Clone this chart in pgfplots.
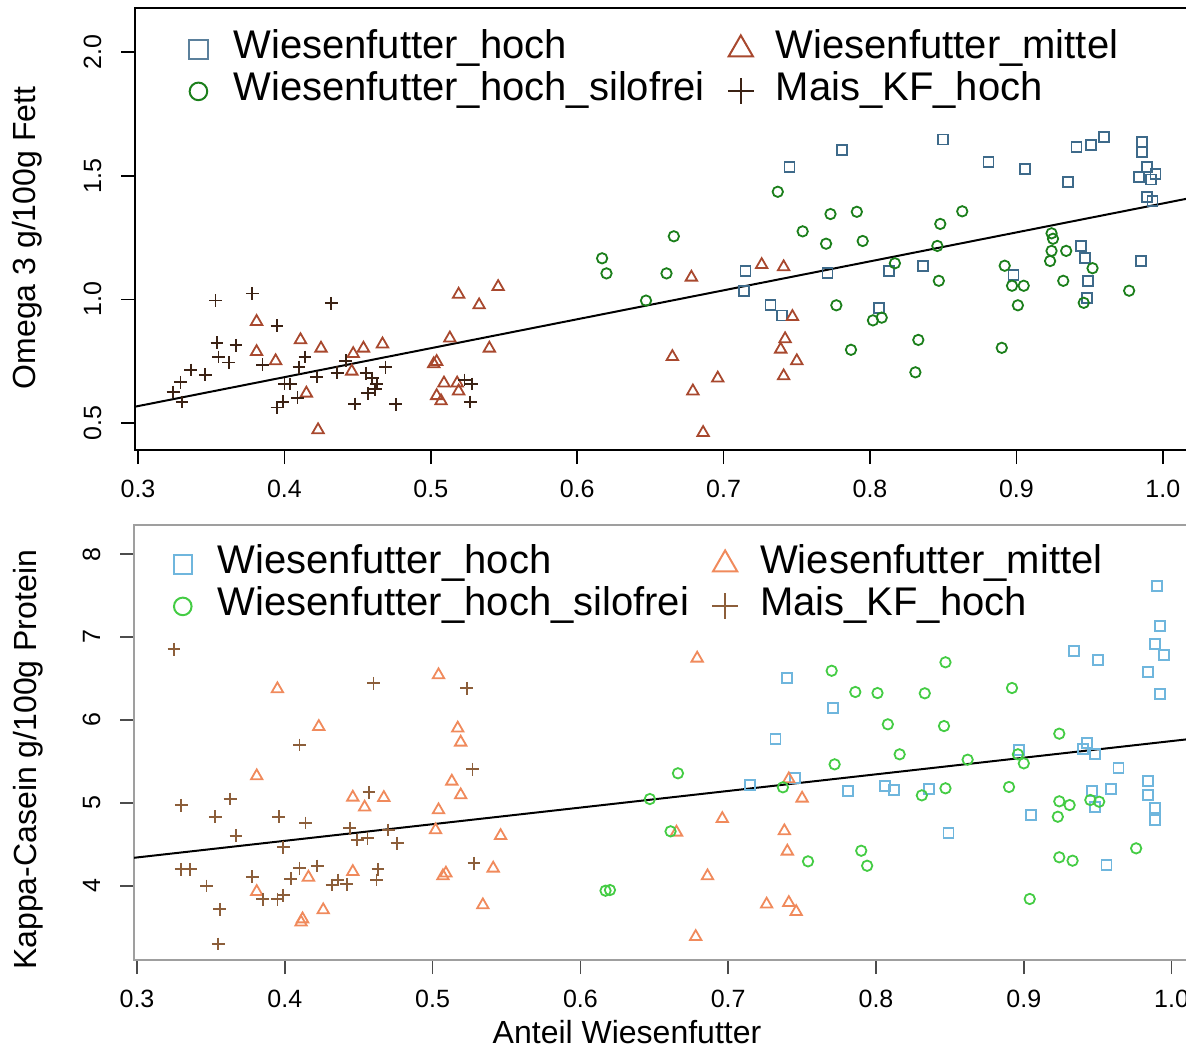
\documentclass[border=0pt]{standalone}
\usepackage{fontspec}
\setmainfont{Liberation Sans}
\usepackage{pgfplots}
\pgfplotsset{compat=1.18}

% colours of the two panels
\definecolor{sqA}{HTML}{3E6A8A}
\definecolor{trA}{HTML}{A8482E}
\definecolor{ciA}{HTML}{1B7F1B}
\definecolor{plA}{HTML}{3B2214}
\definecolor{sqB}{HTML}{6FB6DD}
\definecolor{trB}{HTML}{F08A5C}
\definecolor{ciB}{HTML}{44CC44}
\definecolor{plB}{HTML}{8C5E3A}

\newcommand\tickfont{\fontsize{12.5}{15}\selectfont}
\newcommand\legfont{\fontsize{20}{21}\selectfont}
\newcommand\labfont{\fontsize{16}{19}\selectfont}

\pgfplotsset{
  rpanel/.style={
    scale only axis,
    anchor=north west,
    tick align=outside,
    major tick length=7pt,
    xtick={0.3,0.4,0.5,0.6,0.7,0.8,0.9,1.0},
    xtick pos=bottom, ytick pos=left,
    /pgf/number format/assume math mode=true,
    xticklabel style={font=\tickfont, anchor=base, inner sep=0pt,
      /pgf/number format/.cd, fixed, fixed zerofill, precision=1},
    yticklabel style={font=\tickfont, rotate=90, anchor=base, inner sep=0pt},
    xticklabel shift=16.5pt,
    yticklabel shift=10pt,
    legend columns=2,
    legend cell align=left,
    legend style={draw=none, fill=none, inner sep=0pt, font=\legfont,
      anchor=north west,
      nodes={inner ysep=0pt, inner xsep=4pt, text height=15pt, text depth=6pt},
      /tikz/every even column/.append style={column sep=5pt}},
  },
  % legend symbol: mark centred, fixed room on both sides
  lmark/.style={/tikz/only marks, line width=1pt,
    legend image code/.code={%
      \path (-8.5pt,0pt) (13pt,0pt);
      \draw[##1] plot coordinates {(0pt,0pt)};}},
  pts/.style={only marks, line width=0.9pt, forget plot},
  sq/.style={pts, mark=square, mark size=2.5pt},
  ci/.style={pts, mark=o, mark size=2.6pt},
  tr/.style={pts, mark=triangle, mark size=3.3pt},
  pl/.style={pts, mark=+, mark size=3.2pt},
}

\begin{document}
\begin{tikzpicture}
\useasboundingbox (0,0) rectangle (593pt,-524.5pt);
\clip (0,0) rectangle (593pt,-524.5pt);

% ---------- Omega 3 ----------
\begin{axis}[rpanel,
  at={(67.5pt,-4pt)}, width=532.5pt, height=221pt,
  xmin=0.29795, xmax=1.02541, ymin=0.39082, ymax=2.17813,
  ytick={0.5,1.0,1.5,2.0},
  yticklabel style={/pgf/number format/.cd, fixed, fixed zerofill, precision=1},
  axis line style={black, line width=1pt},
  tick style={black, line width=0.8pt},
  every axis y label/.style={at={(axis description cs:-0.1014,0.4796)},
    rotate=90, anchor=center, font=\labfont},
  ylabel={Omega 3 g/100g Fett},
  legend style={at={(0.0423,0.9548)}},
]
\addlegendimage{lmark, mark=square, mark size=4.6pt, color=sqA!85!white}
\addlegendentry{Wiesenfutter\_hoch}
\addlegendimage{lmark, mark=triangle, mark size=7pt, color=trA}
\addlegendentry{Wiesenfutter\_mittel}
\addlegendimage{lmark, mark=o, mark size=4.4pt, color=ciA}
\addlegendentry{Wiesenfutter\_hoch\_silofrei}
\addlegendimage{lmark, mark=+, mark size=6.5pt, color=plA}
\addlegendentry{Mais\_KF\_hoch}

\addplot[sq, color=sqA] table {
0.781 1.605
0.745 1.535
0.715 1.115
0.714 1.035
0.771 1.105
0.732 0.976
0.740 0.935
0.806 0.965
0.813 1.116
0.850 1.646
0.881 1.555
0.906 1.526
0.935 1.476
0.941 1.616
0.951 1.625
0.960 1.656
0.986 1.636
0.986 1.596
0.989 1.534
0.995 1.506
0.984 1.496
0.992 1.485
0.989 1.415
0.993 1.398
0.836 1.135
0.898 1.097
0.944 1.216
0.947 1.166
0.949 1.075
0.948 1.007
0.985 1.156
};
\addplot[tr, color=trA] table {
0.381 0.910
0.411 0.836
0.381 0.788
0.394 0.751
0.425 0.802
0.447 0.780
0.454 0.802
0.467 0.819
0.446 0.709
0.415 0.620
0.423 0.472
0.519 1.020
0.533 0.977
0.546 1.051
0.513 0.843
0.540 0.802
0.504 0.748
0.502 0.739
0.509 0.661
0.518 0.661
0.519 0.629
0.504 0.610
0.507 0.589
0.678 1.089
0.726 1.140
0.741 1.131
0.747 0.930
0.742 0.840
0.739 0.798
0.750 0.751
0.741 0.690
0.665 0.768
0.696 0.681
0.679 0.629
0.686 0.461
};
\addplot[ci, color=ciA] table {
0.617 1.166
0.620 1.105
0.666 1.255
0.661 1.105
0.647 0.995
0.737 1.435
0.773 1.345
0.791 1.354
0.754 1.275
0.770 1.225
0.795 1.236
0.777 0.976
0.802 0.915
0.808 0.926
0.787 0.796
0.863 1.356
0.848 1.305
0.846 1.216
0.817 1.146
0.847 1.075
0.892 1.136
0.897 1.055
0.905 1.055
0.901 0.976
0.924 1.267
0.925 1.245
0.924 1.196
0.934 1.196
0.923 1.155
0.952 1.126
0.932 1.075
0.946 0.986
0.977 1.035
0.833 0.836
0.890 0.804
0.831 0.705
};
\addplot[pl, color=plA] table {
0.353 0.995
0.378 1.024
0.432 0.984
0.395 0.893
0.354 0.825
0.367 0.814
0.355 0.767
0.362 0.745
0.385 0.736
0.414 0.767
0.410 0.726
0.336 0.714
0.346 0.695
0.329 0.665
0.324 0.625
0.330 0.585
0.400 0.658
0.404 0.658
0.422 0.686
0.436 0.703
0.442 0.752
0.456 0.701
0.460 0.681
0.463 0.658
0.469 0.726
0.462 0.636
0.457 0.620
0.395 0.563
0.399 0.586
0.409 0.602
0.448 0.577
0.476 0.576
0.523 0.674
0.528 0.658
0.527 0.585
};
\addplot[black, line width=1pt, forget plot] coordinates {(0.298,0.566) (1.025,1.417)};
\end{axis}

% ---------- Kappa-Casein ----------
\begin{axis}[rpanel,
  at={(67pt,-262.5pt)}, width=533pt, height=217.5pt,
  xmin=0.29797, xmax=1.01922, ymin=3.10374, ymax=8.35103,
  ytick={4,5,6,7,8},
  axis line style={gray!75, line width=1pt},
  tick style={gray!60!black, line width=0.8pt},
  every axis y label/.style={at={(axis description cs:-0.0994,0.460)},
    rotate=90, anchor=center, font=\labfont},
  every axis x label/.style={at={(axis description cs:0.4625,-0.1655)},
    anchor=center, font=\labfont},
  ylabel={Kappa-Casein g/100g Protein},
  xlabel={Anteil Wiesenfutter},
  legend style={at={(0.0285,0.9586)}},
]
\addlegendimage{lmark, mark=square, mark size=4.6pt, color=sqB}
\addlegendentry{Wiesenfutter\_hoch}
\addlegendimage{lmark, mark=triangle, mark size=7pt, color=trB}
\addlegendentry{Wiesenfutter\_mittel}
\addlegendimage{lmark, mark=o, mark size=4.4pt, color=ciB}
\addlegendentry{Wiesenfutter\_hoch\_silofrei}
\addlegendimage{lmark, mark=+, mark size=6.5pt, color=plB}
\addlegendentry{Mais\_KF\_hoch}

\addplot[sq, color=sqB] table {
0.740 6.509
0.771 6.144
0.732 5.773
0.745 5.296
0.715 5.211
0.781 5.139
0.990 7.619
0.992 7.136
0.989 6.912
0.995 6.783
0.984 6.574
0.992 6.309
0.934 6.835
0.950 6.723
0.897 5.637
0.943 5.718
0.940 5.653
0.948 5.592
0.964 5.416
0.984 5.267
0.984 5.094
0.989 4.934
0.989 4.789
0.806 5.203
0.812 5.154
0.836 5.166
0.946 5.142
0.948 4.946
0.959 5.166
0.905 4.853
0.849 4.639
0.956 4.253
};
\addplot[tr, color=trB] table {
0.395 6.373
0.504 6.542
0.423 5.918
0.517 5.899
0.519 5.730
0.381 5.323
0.513 5.259
0.519 5.094
0.446 5.066
0.467 5.062
0.454 4.946
0.504 4.913
0.502 4.672
0.546 4.603
0.446 4.169
0.416 4.101
0.509 4.150
0.507 4.117
0.541 4.210
0.381 3.928
0.426 3.707
0.534 3.767
0.412 3.598
0.411 3.559
0.679 6.743
0.741 5.287
0.750 5.054
0.696 4.808
0.665 4.644
0.738 4.660
0.740 4.415
0.686 4.117
0.726 3.776
0.741 3.795
0.746 3.686
0.678 3.385
};
\addplot[ci, color=ciB] table {
0.770 6.593
0.786 6.337
0.666 5.356
0.772 5.464
0.647 5.046
0.737 5.187
0.661 4.656
0.790 4.422
0.754 4.294
0.794 4.241
0.617 3.940
0.620 3.948
0.847 6.695
0.801 6.324
0.833 6.321
0.892 6.385
0.808 5.947
0.846 5.926
0.924 5.834
0.816 5.585
0.862 5.520
0.896 5.585
0.900 5.476
0.831 5.090
0.847 5.175
0.890 5.191
0.924 5.018
0.931 4.973
0.945 5.034
0.951 5.013
0.923 4.832
0.924 4.343
0.933 4.302
0.976 4.451
0.904 3.840
};
\addplot[pl, color=plB] table {
0.325 6.852
0.460 6.441
0.523 6.381
0.410 5.697
0.527 5.404
0.330 4.970
0.363 5.046
0.353 4.832
0.396 4.832
0.414 4.756
0.367 4.603
0.399 4.463
0.457 5.127
0.444 4.692
0.449 4.551
0.456 4.572
0.470 4.672
0.476 4.511
0.330 4.198
0.336 4.198
0.347 3.996
0.378 4.109
0.410 4.210
0.422 4.238
0.404 4.084
0.385 3.836
0.395 3.836
0.399 3.884
0.356 3.715
0.355 3.297
0.432 4.008
0.436 4.069
0.442 4.017
0.463 4.198
0.462 4.069
0.528 4.270
};
\addplot[black, line width=1pt, forget plot] coordinates {(0.298,4.337) (1.019,5.783)};
\end{axis}
\end{tikzpicture}
\end{document}
